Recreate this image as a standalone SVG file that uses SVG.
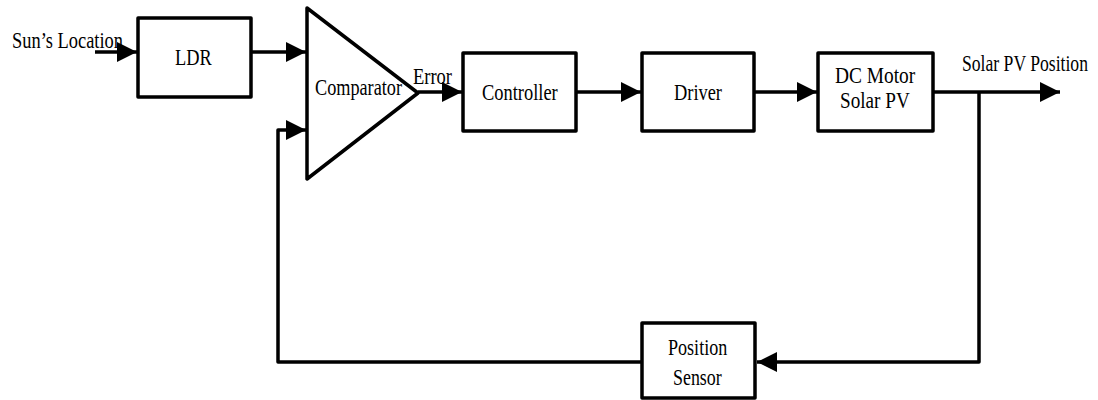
<svg xmlns="http://www.w3.org/2000/svg" width="1098" height="400" viewBox="0 0 1098 400">
<style>
.box{fill:#fff;stroke:#000;stroke-width:3.5;stroke-linejoin:round}
.wire{fill:none;stroke:#000;stroke-width:3.5;stroke-linejoin:round}
text{font-family:'Liberation Serif','DejaVu Serif',serif;font-size:24px;fill:#000}
</style>
<defs>
<marker id="ah" markerUnits="userSpaceOnUse" markerWidth="22" markerHeight="22" refX="20" refY="10" orient="auto">
<path d="M0,0 L20,10 L0,20 z" fill="#000"/>
</marker>
</defs>
<rect width="1098" height="400" fill="#fff"/>
<g id="connectors">
<path class="wire" d="M95,52 H137" marker-end="url(#ah)"/>
<path class="wire" d="M251,52 H306" marker-end="url(#ah)"/>
<path class="wire" d="M642,362 H278 V130 H306" marker-end="url(#ah)"/>
<path class="wire" d="M418,92 H462" marker-end="url(#ah)"/>
<path class="wire" d="M576,92 H641" marker-end="url(#ah)"/>
<path class="wire" d="M754,92 H817" marker-end="url(#ah)"/>
<path class="wire" d="M933,92 H1060" marker-end="url(#ah)"/>
<path class="wire" d="M979,92 V362 H757" marker-end="url(#ah)"/>
</g>
<g id="label-sun"><text transform="translate(12,48) scale(0.75,1)" font-size="23" textLength="148" lengthAdjust="spacingAndGlyphs">Sun’s Location</text></g>
<g id="ldr">
<rect class="box" x="138" y="18" width="113" height="79"/>
<text transform="translate(175,65) scale(0.75,1)" font-size="25" textLength="49" lengthAdjust="spacingAndGlyphs">LDR</text>
</g>
<g id="comparator">
<polygon class="box" points="307,8 418,93 307,179"/>
<text transform="translate(315,95) scale(0.75,1)" font-size="25" textLength="116" lengthAdjust="spacingAndGlyphs">Comparator</text>
</g>
<g id="label-error"><text transform="translate(413,84) scale(0.75,1)" font-size="23" textLength="52" lengthAdjust="spacingAndGlyphs">Error</text></g>
<g id="controller">
<rect class="box" x="463" y="53" width="113" height="78"/>
<text transform="translate(482,100) scale(0.75,1)" font-size="25" textLength="101" lengthAdjust="spacingAndGlyphs">Controller</text>
</g>
<g id="driver">
<rect class="box" x="642" y="53" width="112" height="78"/>
<text transform="translate(674,100) scale(0.75,1)" font-size="25" textLength="64" lengthAdjust="spacingAndGlyphs">Driver</text>
</g>
<g id="dc-motor">
<rect class="box" x="818" y="53" width="115" height="78"/>
<text transform="translate(835,83) scale(0.75,1)" font-size="24" textLength="107" lengthAdjust="spacingAndGlyphs">DC Motor</text>
<text transform="translate(840,108) scale(0.75,1)" font-size="24" textLength="93" lengthAdjust="spacingAndGlyphs">Solar PV</text>
</g>
<g id="label-output"><text transform="translate(962,71) scale(0.75,1)" font-size="23" textLength="168" lengthAdjust="spacingAndGlyphs">Solar PV Position</text></g>
<g id="position-sensor">
<rect class="box" x="642" y="323" width="113" height="75"/>
<text transform="translate(668,355) scale(0.75,1)" font-size="23" textLength="79" lengthAdjust="spacingAndGlyphs">Position</text>
<text transform="translate(673,385) scale(0.75,1)" font-size="23" textLength="65" lengthAdjust="spacingAndGlyphs">Sensor</text>
</g>
</svg>
